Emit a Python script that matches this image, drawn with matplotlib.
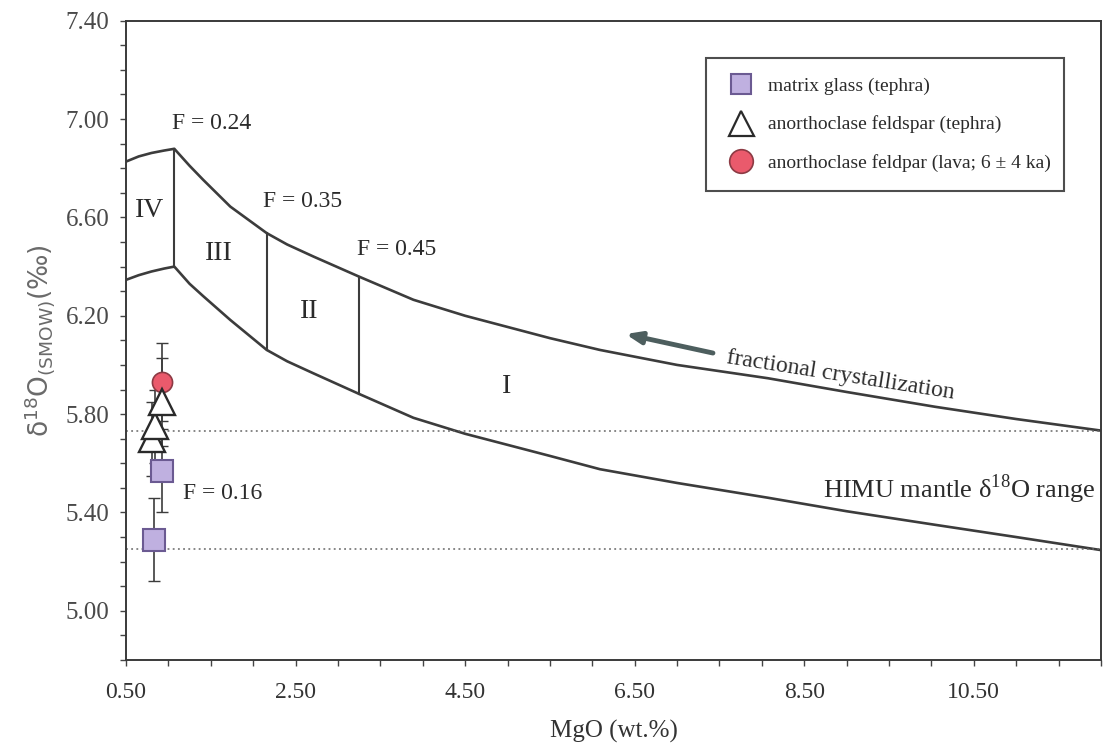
import numpy as np
import matplotlib
matplotlib.use("Agg")
import matplotlib.pyplot as plt
from matplotlib.lines import Line2D
from matplotlib.ticker import MultipleLocator, FormatStrFormatter

plt.rcParams['font.family'] = ['Liberation Serif', 'DejaVu Serif']
plt.rcParams['mathtext.fontset'] = 'custom'
plt.rcParams['mathtext.rm'] = 'Liberation Serif'
plt.rcParams['mathtext.sf'] = 'DejaVu Sans'

# model curves (upper / lower limits of the melting + crystallization band)
upper_mgo = [0.5, 0.65, 0.8, 0.95, 1.07, 1.25, 1.41, 1.73, 2.16, 2.4, 2.71, 3.25, 3.89, 4.5, 5.5, 6.09, 7.0, 8.07, 9.0, 10.04, 11.0, 12.0]
upper_d18o = [6.827, 6.848, 6.862, 6.872, 6.879, 6.81, 6.753, 6.644, 6.536, 6.49, 6.441, 6.359, 6.265, 6.20, 6.109, 6.061, 6.0, 5.946, 5.89, 5.83, 5.78, 5.733]
lower_mgo = [0.5, 0.65, 0.8, 0.95, 1.07, 1.25, 1.41, 1.73, 2.16, 2.4, 2.71, 3.25, 3.89, 4.5, 5.5, 6.09, 7.0, 8.07, 9.0, 10.04, 11.0, 12.0]
lower_d18o = [6.346, 6.365, 6.38, 6.392, 6.400, 6.33, 6.28, 6.183, 6.061, 6.015, 5.966, 5.882, 5.785, 5.72, 5.63, 5.576, 5.52, 5.46, 5.405, 5.35, 5.30, 5.247]

# degree of melting boundaries
melt_mgo = [1.07, 2.16, 3.25]
melt_labels = ['F = 0.24', 'F = 0.35', 'F = 0.45']

# HIMU mantle range
himu_range = [5.25, 5.73]

# samples
glass_mgo = [0.92, 0.83]
glass_d18o = [5.57, 5.29]
glass_err = [0.17, 0.17]

fsp_mgo = [0.92, 0.84, 0.81]
fsp_d18o = [5.85, 5.75, 5.70]
fsp_err = [0.18, 0.15, 0.15]

lava_mgo = [0.92]
lava_d18o = [5.93]
lava_err = [0.16]

line_col = '#3c3c3c'
text_col = '#2b2b2b'
glass_face, glass_edge = '#bfb0e0', '#6b5a92'
lava_face, lava_edge = '#ea5a6c', '#8c3a44'

fig = plt.figure(figsize=(11.09, 7.47), dpi=100)
ax = fig.add_axes([126 / 1109, 87 / 747, 975 / 1109, 639.3 / 747])

ax.plot(upper_mgo, upper_d18o, color=line_col, lw=1.9)
ax.plot(lower_mgo, lower_d18o, color=line_col, lw=1.9)
for xm in melt_mgo:
    ax.plot([xm, xm], [np.interp(xm, lower_mgo, lower_d18o), np.interp(xm, upper_mgo, upper_d18o)],
            color=line_col, lw=1.5)

for yv in himu_range:
    ax.axhline(yv, color='#666666', lw=1.1, ls=(0, (1.2, 2.2)))

# error bars
ax.errorbar(lava_mgo, lava_d18o, yerr=lava_err, fmt='none', ecolor=line_col, elinewidth=1.2, capsize=4)
ax.errorbar(fsp_mgo, fsp_d18o, yerr=fsp_err, fmt='none', ecolor=line_col, elinewidth=1.2, capsize=4)
ax.errorbar(glass_mgo, glass_d18o, yerr=glass_err, fmt='none', ecolor=line_col, elinewidth=1.2, capsize=4)

ax.plot(glass_mgo, glass_d18o, ls='none', marker='s', ms=16.5, mfc=glass_face, mec=glass_edge, mew=1.5)
ax.plot(lava_mgo, lava_d18o, ls='none', marker='o', ms=14.5, mfc=lava_face, mec=lava_edge, mew=1.2)
ax.plot(fsp_mgo[::-1], fsp_d18o[::-1], ls='none', marker='^', ms=19, mfc='white', mec='#2a2a2a', mew=1.7)

# labels on the diagram
fs = 17
ax.text(1.04, 6.98, melt_labels[0], fontsize=fs, color=text_col, va='center')
ax.text(2.12, 6.665, melt_labels[1], fontsize=fs, color=text_col, va='center')
ax.text(3.22, 6.468, melt_labels[2], fontsize=fs, color=text_col, va='center')
ax.text(1.17, 5.478, 'F = 0.16', fontsize=fs, color=text_col, va='center')
ax.text(0.78, 6.627, 'IV', fontsize=20, color=text_col, ha='center', va='center')
ax.text(1.60, 6.452, 'III', fontsize=20, color=text_col, ha='center', va='center')
ax.text(2.66, 6.217, 'II', fontsize=20, color=text_col, ha='center', va='center')
ax.text(4.99, 5.912, 'I', fontsize=20, color=text_col, ha='center', va='center')

ax.text(8.93, 5.957, 'fractional crystallization', fontsize=17, color=text_col,
        ha='center', va='center', rotation=-8.9, rotation_mode='anchor')
ax.annotate('', xy=(6.36, 6.128), xytext=(7.455, 6.046),
            arrowprops=dict(arrowstyle='-|>,head_length=0.9,head_width=0.35', color='#4d5e5e', lw=3.5))
ax.text(11.93, 5.493, 'HIMU mantle δ$^{18}$O range', fontsize=19, color=text_col,
        ha='right', va='center')

ax.set_xlim(0.5, 12.0)
ax.set_ylim(4.8, 7.4)
ax.set_xticks(np.arange(0.5, 11.0, 2.0))
ax.xaxis.set_minor_locator(MultipleLocator(0.5))
ax.set_yticks(np.arange(5.0, 7.41, 0.4))
ax.yaxis.set_minor_locator(MultipleLocator(0.1))
ax.xaxis.set_major_formatter(FormatStrFormatter('%.2f'))
ax.yaxis.set_major_formatter(FormatStrFormatter('%.2f'))
ax.tick_params(which='both', direction='out', length=4, width=1.0, color='#444444')
ax.tick_params(axis='x', labelsize=17, labelcolor='#333333', pad=12)
ax.tick_params(axis='y', labelsize=18, labelcolor='#4a4a4a', pad=8)
for sp in ax.spines.values():
    sp.set_color('#3a3a3a')
    sp.set_linewidth(1.4)

ax.set_xlabel('MgO (wt.%)', fontsize=18, color='#333333', labelpad=12)
ax.set_ylabel(r'δ$^{\mathsf{18}}$O$_{\mathsf{(SMOW)}}$(‰)', fontsize=19, color='#6a6a6a',
              family=['DejaVu Sans'], labelpad=6)

handles = [
    Line2D([], [], ls='none', marker='s', ms=14, mfc=glass_face, mec=glass_edge, mew=1.5),
    Line2D([], [], ls='none', marker='^', ms=18, mfc='white', mec='#2a2a2a', mew=1.6),
    Line2D([], [], ls='none', marker='o', ms=17, mfc=lava_face, mec=lava_edge, mew=1.2),
]
labels = ['matrix glass (tephra)', 'anorthoclase feldspar (tephra)', 'anorthoclase feldpar (lava; 6 ± 4 ka)']
leg = ax.legend(handles, labels, loc='upper left', bbox_to_anchor=(0.595, 0.735, 0.367, 0.2067),
                mode='expand', fontsize=14, frameon=True, fancybox=False, borderpad=1.0,
                labelspacing=1.05, handletextpad=0.6, handlelength=1.6, borderaxespad=0)
leg.get_frame().set_edgecolor('#222222')
leg.get_frame().set_linewidth(1.5)
for t in leg.get_texts():
    t.set_color(text_col)

fig.savefig('out.png', dpi=100)
